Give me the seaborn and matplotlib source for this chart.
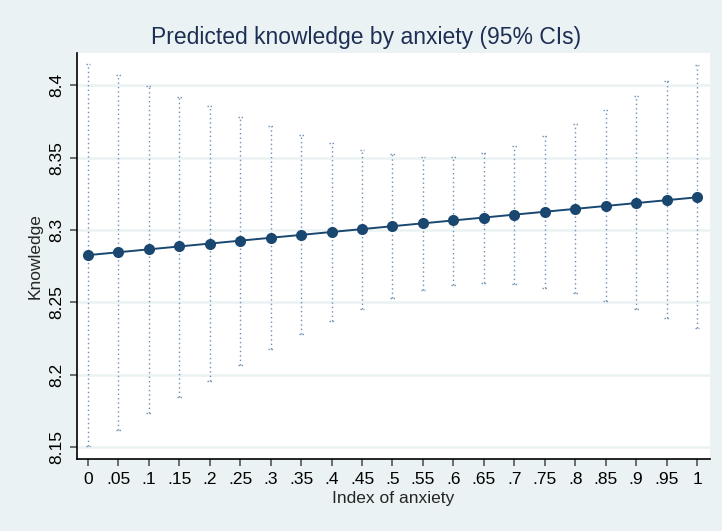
import numpy as np
import pandas as pd
import matplotlib
matplotlib.use("Agg")
import matplotlib.pyplot as plt
import seaborn as sns

# Adjusted predictions of knowledge over the anxiety index, with 95% CIs
anxiety = [0, .05, .1, .15, .2, .25, .3, .35, .4, .45, .5,
           .55, .6, .65, .7, .75, .8, .85, .9, .95, 1]
predicted = [8.2826, 8.2846, 8.2866, 8.2886, 8.2906, 8.2926, 8.2946, 8.2966,
             8.2986, 8.3006, 8.3026, 8.3046, 8.3066, 8.3086, 8.3106, 8.3126,
             8.3146, 8.3166, 8.3186, 8.3206, 8.3226]
ci_upper = [8.4148, 8.4072, 8.3996, 8.3920, 8.3858, 8.3780, 8.3719, 8.3657,
            8.3601, 8.3553, 8.3526, 8.3505, 8.3505, 8.3533, 8.3581, 8.3650,
            8.3733, 8.3830, 8.3927, 8.4030, 8.4141]
ci_lower = [8.1506, 8.1617, 8.1734, 8.1845, 8.1956, 8.2067, 8.2177, 8.2281,
            8.2371, 8.2454, 8.2530, 8.2585, 8.2620, 8.2633, 8.2627, 8.2599,
            8.2564, 8.2509, 8.2454, 8.2391, 8.2322]
x_ticklabels = ["0", ".05", ".1", ".15", ".2", ".25", ".3", ".35", ".4", ".45",
                ".5", ".55", ".6", ".65", ".7", ".75", ".8", ".85", ".9", ".95", "1"]
y_ticks = [8.15, 8.2, 8.25, 8.3, 8.35, 8.4]
y_ticklabels = ["8.15", "8.2", "8.25", "8.3", "8.35", "8.4"]

df = pd.DataFrame({"anxiety": anxiety, "predicted": predicted,
                   "lo": ci_lower, "hi": ci_upper})

OUTER = "#eaf2f3"
NAVY = "#1a476f"
TITLE = "#1e2f55"
CI_COLOR = "#6d8fb3"

sns.set_style("white")
plt.rcParams["font.family"] = ["Liberation Sans", "DejaVu Sans"]

fig = plt.figure(figsize=(7.22, 5.31), dpi=100, facecolor=OUTER)
ax = fig.add_axes([77 / 722, 72 / 531, 633 / 722, 406 / 531])
ax.set_facecolor("white")

# horizontal grid lines
for yv in y_ticks:
    ax.axhline(yv, color=OUTER, lw=1.8, zorder=0)

# CI spikes with small caps, dotted
ax.vlines(df["anxiety"], df["lo"], df["hi"], colors=CI_COLOR,
          linestyles=(0, (1, 2.2)), linewidth=1.0, zorder=1)
cap = 0.004
ax.hlines(df["hi"], df["anxiety"] - cap, df["anxiety"] + cap, colors=CI_COLOR,
          linestyles=(0, (1, 1.2)), linewidth=1.0, zorder=1)
ax.hlines(df["lo"], df["anxiety"] - cap, df["anxiety"] + cap, colors=CI_COLOR,
          linestyles=(0, (1, 1.2)), linewidth=1.0, zorder=1)

sns.lineplot(data=df, x="anxiety", y="predicted", ax=ax, color=NAVY,
             linewidth=1.4, marker="o", markersize=8, markeredgewidth=0,
             markerfacecolor=NAVY, zorder=3)

ax.set_xlim(-0.018, 1.0213)
ax.set_ylim(8.1416, 8.4224)
ax.set_xticks(anxiety)
ax.set_xticklabels(x_ticklabels)
ax.set_yticks(y_ticks)
ax.set_yticklabels(y_ticklabels, rotation=90, va="center")

ax.tick_params(axis="both", direction="out", length=5, width=1.2,
               color="#555555", labelsize=12.5, labelcolor="black", pad=4)
ax.tick_params(axis="x", bottom=True)
ax.tick_params(axis="y", left=True)

for side in ("top", "right"):
    ax.spines[side].set_visible(False)
for side in ("left", "bottom"):
    ax.spines[side].set_color("black")
    ax.spines[side].set_linewidth(1.2)

ax.set_xlabel("Index of anxiety", fontsize=12.5, labelpad=3)
ax.set_ylabel("Knowledge", fontsize=12.5, labelpad=5)

fig.text(366 / 722, 1 - 37 / 531, "Predicted knowledge by anxiety (95% CIs)",
         ha="center", va="center", fontsize=16.5, color=TITLE)

fig.savefig("out.png", dpi=100, facecolor=OUTER)
